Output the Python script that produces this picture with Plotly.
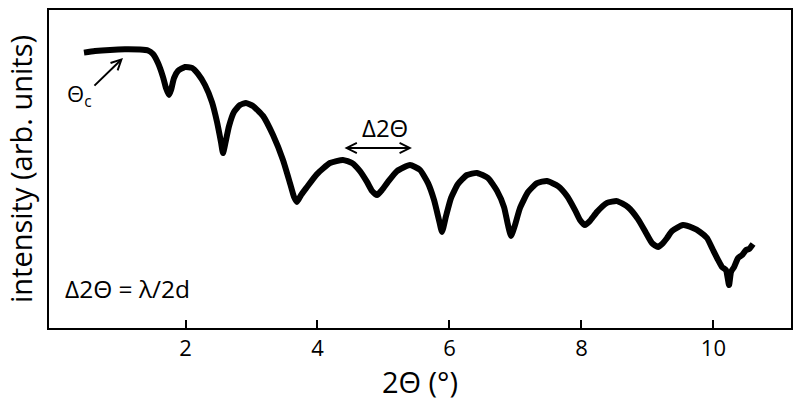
import plotly.graph_objects as go

# 2-theta (degrees)
two_theta = [0.461, 0.628, 0.855, 1.082, 1.310, 1.431, 1.507, 1.583, 1.658, 1.704,
             1.749, 1.780, 1.825, 1.886, 1.992, 2.098, 2.189, 2.295, 2.401, 2.477,
             2.537, 2.568, 2.598, 2.659, 2.734, 2.825, 2.916, 3.022, 3.174, 3.326,
             3.477, 3.583, 3.644, 3.689, 3.750, 3.841, 3.992, 4.189, 4.386, 4.523,
             4.644, 4.750, 4.826, 4.902, 4.977, 5.068, 5.205, 5.402, 5.553, 5.675,
             5.766, 5.841, 5.887, 5.948, 6.023, 6.129, 6.266, 6.417, 6.584, 6.721,
             6.827, 6.887, 6.933, 6.993, 7.069, 7.190, 7.327, 7.478, 7.645, 7.781,
             7.903, 7.978, 8.054, 8.130, 8.236, 8.388, 8.539, 8.706, 8.857, 8.979,
             9.070, 9.161, 9.236, 9.297, 9.373, 9.539, 9.691, 9.797, 9.903, 9.994,
             10.070, 10.131, 10.191, 10.237, 10.267, 10.313, 10.373, 10.434, 10.494, 10.540,
             10.601]

# intensity (arb. units)
intensity = [91.8, 92.3, 92.7, 92.9, 92.8, 92.5, 91.3, 88.3, 83.7, 80.0,
             77.7, 79.3, 83.3, 85.7, 87.0, 86.7, 84.7, 81.0, 75.3, 68.7,
             62.0, 58.3, 61.0, 67.3, 72.0, 74.3, 75.0, 74.0, 70.7, 64.3,
             56.0, 48.3, 43.7, 42.0, 44.3, 47.0, 51.3, 55.0, 56.0, 55.0,
             52.3, 48.7, 45.7, 44.3, 46.0, 48.7, 52.3, 54.3, 52.7, 48.3,
             42.7, 36.0, 32.0, 37.3, 43.3, 48.0, 51.0, 51.7, 50.0, 45.7,
             40.3, 34.3, 30.7, 34.3, 40.0, 45.3, 48.3, 49.0, 47.3, 44.0,
             39.3, 36.0, 34.3, 35.7, 38.7, 41.7, 42.3, 40.3, 36.3, 31.7,
             28.3, 27.0, 28.3, 30.0, 32.3, 34.3, 33.3, 32.0, 30.0, 26.0,
             22.7, 20.3, 19.3, 14.3, 18.7, 20.3, 23.3, 24.3, 26.0, 26.3,
             28.0]

x_ticks = [2, 4, 6, 8, 10]

FONT = "Open Sans"

fig = go.Figure()
fig.add_trace(go.Scatter(
    x=two_theta, y=intensity, mode="lines",
    line=dict(color="black", width=6, shape="spline", smoothing=0.5),
    showlegend=False, hoverinfo="skip",
))

annotations = [
    # theta_c arrow
    dict(x=1.052, y=90.0, ax=0.597, ay=80.3, xref="x", yref="y", axref="x", ayref="y",
         text="", showarrow=True, arrowhead=5, arrowsize=1, arrowwidth=2, arrowcolor="black"),
    dict(x=0.40, y=77.7, xref="x", yref="y", text="Θ<sub>c</sub>", showarrow=False,
         font=dict(family=FONT, size=22, color="black")),
    # delta 2 theta double arrow
    dict(x=5.432, y=60.0, ax=4.386, ay=60.0, xref="x", yref="y", axref="x", ayref="y",
         text="", showarrow=True, arrowhead=5, startarrowhead=5, arrowside="end+start",
         arrowsize=1, arrowwidth=2, arrowcolor="black"),
    dict(x=5.02, y=67.0, xref="x", yref="y", text="Δ2Θ", showarrow=False,
         font=dict(family=FONT, size=24, color="black")),
    dict(x=0.143, y=13.3, xref="x", yref="y", text="Δ2Θ = λ/2d", showarrow=False,
         xanchor="left", font=dict(family=FONT, size=24.5, color="black")),
]

fig.update_layout(
    width=799, height=406, autosize=False,
    margin=dict(l=49, r=8, t=10, b=78),
    paper_bgcolor="white", plot_bgcolor="white",
    font=dict(family=FONT, color="black"),
    annotations=annotations,
    xaxis=dict(
        range=[-0.069, 11.176], tickvals=x_ticks, ticks="inside", ticklen=8, tickwidth=2,
        tickcolor="black", showline=True, linewidth=2, linecolor="black", mirror=True,
        showgrid=False, zeroline=False, automargin=False,
        tickfont=dict(family=FONT, size=22, color="black"),
        title=dict(text="2Θ (°)", font=dict(family=FONT, size=29, color="black"), standoff=4),
    ),
    yaxis=dict(
        range=[0, 106], showticklabels=False, ticks="", showline=True, linewidth=2,
        linecolor="black", mirror=True, showgrid=False, zeroline=False, automargin=False,
        title=dict(text="intensity (arb. units)", font=dict(family=FONT, size=29, color="black"),
                   standoff=6),
    ),
)

fig.write_html("out.html",
               config={"displayModeBar": False},
               post_script="document.body.style.margin='0';document.body.style.padding='0';")
